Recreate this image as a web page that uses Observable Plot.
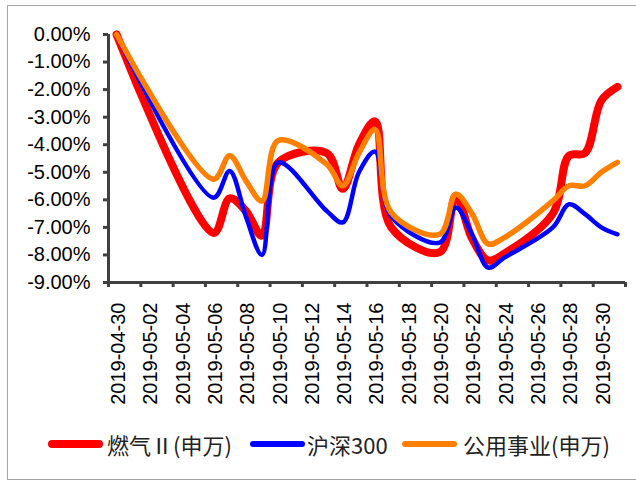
<!DOCTYPE html>
<html>
<head>
<meta charset="utf-8">
<script src="https://cdn.jsdelivr.net/npm/d3@7"></script>
<script src="https://cdn.jsdelivr.net/npm/@observablehq/plot@0.6"></script>
<style>
  html, body { margin: 0; padding: 0; background: #fff; }
  #wrap { position: relative; width: 636px; height: 483px; overflow: hidden; background: #fff; }
  #frame { position: absolute; left: 7px; top: 5px; width: 640px; height: 475px; border: 1px solid #a6a6a6; box-sizing: border-box; }
  #chart { position: absolute; left: 0; top: 0; }
  #legend { position: absolute; left: 0; top: 428px; width: 636px; height: 34px; font-family: "Noto Sans CJK SC", "Noto Sans", sans-serif; font-size: 22px; color: #222; }
  .sw { position: absolute; border-radius: 4px; }
  .lb { position: absolute; top: 0; line-height: 32px; white-space: nowrap; }
</style>
</head>
<body>
<div id="wrap">
  <div id="frame"></div>
  <div id="chart"></div>
  <div id="legend"></div>
</div>
<script>
// Trading days and cumulative returns (%) since 2019-04-30
const dates = ["2019-04-30","2019-05-06","2019-05-07","2019-05-08","2019-05-09","2019-05-10",
  "2019-05-13","2019-05-14","2019-05-15","2019-05-16","2019-05-17",
  "2019-05-20","2019-05-21","2019-05-22","2019-05-23","2019-05-24",
  "2019-05-27","2019-05-28","2019-05-29","2019-05-30","2019-05-31"];
const gas = [0, -7.2, -5.95, -6.4, -7.3, -4.65, -4.3, -5.6, -4.0, -3.15, -7.0,
  -7.9, -5.85, -7.4, -8.2, -7.95, -6.5, -4.4, -4.3, -2.4, -1.9];
const hs300 = [0, -5.92, -4.95, -6.6, -8.0, -4.64, -6.4, -6.82, -5.0, -4.25, -6.6,
  -7.55, -6.28, -7.25, -8.46, -8.1, -7.0, -6.16, -6.52, -7.0, -7.25];
const utility = [0, -5.25, -4.4, -5.3, -6.04, -3.85, -4.7, -5.49, -4.3, -3.45, -6.46,
  -7.25, -5.8, -6.5, -7.6, -7.37, -6.04, -5.49, -5.49, -5.0, -4.64];

const seriesNames = ["燃气Ⅱ(申万)", "沪深300", "公用事业(申万)"];
const seriesColors = ["#ff0000", "#0000ff", "#ff8000"];
const seriesWidths = [8, 4.5, 5.5];

const xTickLabels = ["2019-04-30","2019-05-02","2019-05-04","2019-05-06","2019-05-08","2019-05-10",
  "2019-05-12","2019-05-14","2019-05-16","2019-05-18","2019-05-20","2019-05-22",
  "2019-05-24","2019-05-26","2019-05-28","2019-05-30","2019-06-01"];
const yTicks = [0, -1, -2, -3, -4, -5, -6, -7, -8, -9];

// each day occupies one interval on the date axis; points sit at its middle
const dayStart = s => new Date(s + "T00:00:00Z");
const dayMid = s => new Date(s + "T12:00:00Z");

const rows = dates.map((d, i) => ({date: dayMid(d), gas: gas[i], hs300: hs300[i], utility: utility[i]}));
const keys = ["gas", "hs300", "utility"];

const tickDates = xTickLabels.map(dayStart);
const labelDates = xTickLabels.slice(0, -1).map(dayMid);
const axisColor = "#404040";

const chart = Plot.plot({
  width: 636,
  height: 420,
  marginLeft: 108,
  marginRight: 11,
  marginTop: 34,
  marginBottom: 138,
  style: {fontFamily: "'Liberation Sans', Arial, sans-serif", color: "#000", background: "transparent"},
  x: {type: "utc", domain: [tickDates[0], tickDates[tickDates.length - 1]]},
  y: {domain: [-9, 0]},
  marks: [
    Plot.axisY({ticks: yTicks, tickSize: 5, tickPadding: 13, stroke: axisColor, strokeWidth: 3,
      fontSize: 20, tickFormat: d => d.toFixed(2) + "%", label: null}),
    Plot.axisX({ticks: tickDates, tickSize: 5, stroke: axisColor, strokeWidth: 3,
      tickFormat: () => "", label: null}),
    Plot.axisX({ticks: labelDates, tickSize: 0, tickPadding: 20, tickRotate: -90, fontSize: 20,
      dx: 2, tickFormat: d3.utcFormat("%Y-%m-%d"), label: null}),
    Plot.ruleY([-9], {stroke: axisColor, strokeWidth: 3}),
    Plot.ruleX([tickDates[0]], {stroke: axisColor, strokeWidth: 3}),
    ...keys.map((k, i) => Plot.lineY(rows, {x: "date", y: k, stroke: seriesColors[i],
      strokeWidth: seriesWidths[i], curve: "catmull-rom", strokeLinecap: "round", strokeLinejoin: "round"}))
  ]
});
document.getElementById("chart").appendChild(chart);

// legend below the plot
const legend = document.getElementById("legend");
const legendSwatchX = [48, 250, 402];
const legendLabelX = [107, 307, 463];
seriesNames.forEach((name, i) => {
  const sw = document.createElement("div");
  sw.className = "sw";
  const h = i === 0 ? 8 : 5.5;
  sw.style.cssText = `left:${legendSwatchX[i]}px;top:${16 - h / 2}px;width:55px;height:${h}px;background:${seriesColors[i]}`;
  legend.appendChild(sw);
  const lb = document.createElement("div");
  lb.className = "lb";
  lb.style.left = legendLabelX[i] + "px";
  lb.textContent = name;
  legend.appendChild(lb);
});
</script>
</body>
</html>
